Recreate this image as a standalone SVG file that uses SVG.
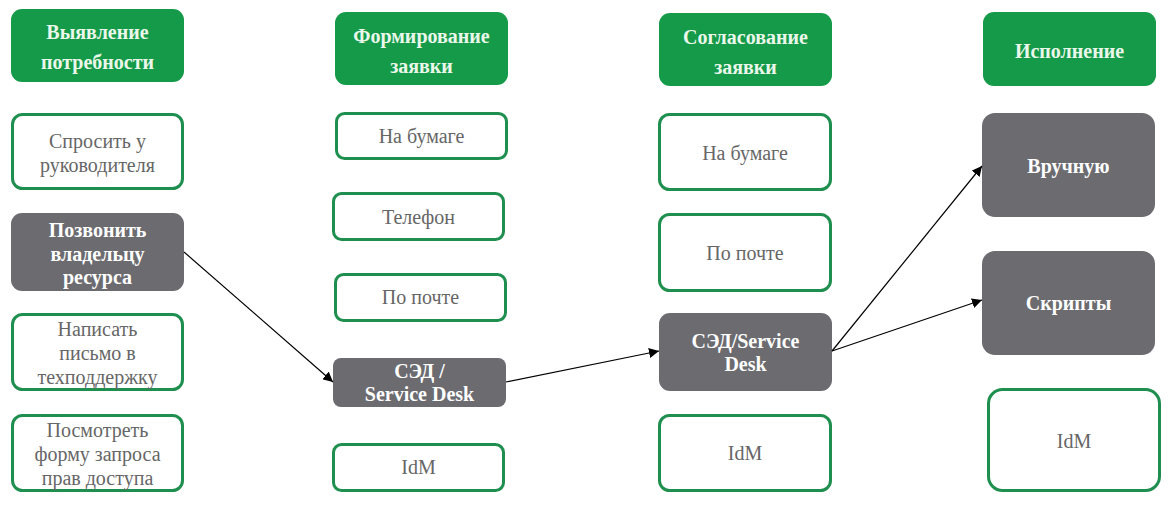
<svg xmlns="http://www.w3.org/2000/svg" width="1171" height="510" viewBox="0 0 1171 510">
<style>
.hd{fill:#149a48}
.hdt{font-family:'Liberation Serif','Times New Roman',serif;font-weight:bold;font-size:20px;fill:#eaf7ea;text-anchor:middle;dominant-baseline:central}
.wb{fill:#ffffff;stroke:#1f8f4f;stroke-width:3}
.wt{font-family:'Liberation Serif','Times New Roman',serif;font-size:20px;fill:#666666;text-anchor:middle;dominant-baseline:central}
.gb{fill:#6b6b70}
.gt{font-family:'Liberation Serif','Times New Roman',serif;font-weight:bold;font-size:20px;fill:#ffffff;text-anchor:middle;dominant-baseline:central}
.cn{stroke:#000;stroke-width:1.2;fill:none;marker-end:url(#ah)}
</style>
<defs>
<marker id="ah" viewBox="0 0 10 10" refX="10" refY="5" markerWidth="10" markerHeight="10" markerUnits="userSpaceOnUse" orient="auto">
<path d="M0,0 L10,5 L0,10 z" fill="#000"/>
</marker>
</defs>
<rect width="1171" height="510" fill="#ffffff"/>

<g id="h1"><rect class="hd" x="11" y="9" width="173" height="73" rx="11"/><text class="hdt" x="97.5" y="32">Выявление</text><text class="hdt" x="97.5" y="62">потребности</text></g>
<g id="n1a"><rect class="wb" x="12.5" y="114.5" width="170" height="74" rx="10"/><text class="wt" x="97.5" y="141">Спросить у</text><text class="wt" x="97.5" y="165">руководителя</text></g>
<g id="n1b"><rect class="gb" x="11" y="213" width="173" height="78" rx="11"/><text class="gt" x="97.5" y="230">Позвонить</text><text class="gt" x="97.5" y="254">владельцу</text><text class="gt" x="97.5" y="277">ресурса</text></g>
<g id="n1c"><rect class="wb" x="12.5" y="314.5" width="170" height="75" rx="10"/><text class="wt" x="97.5" y="329">Написать</text><text class="wt" x="97.5" y="353">письмо в</text><text class="wt" x="97.5" y="377">техподдержку</text></g>
<g id="n1d"><rect class="wb" x="12.5" y="415.5" width="170" height="75" rx="10"/><text class="wt" x="97.5" y="430">Посмотреть</text><text class="wt" x="97.5" y="454">форму запроса</text><text class="wt" x="97.5" y="478">прав доступа</text></g>

<g id="h2"><rect class="hd" x="335" y="12" width="173" height="73" rx="11"/><text class="hdt" x="421.5" y="36">Формирование</text><text class="hdt" x="421.5" y="66">заявки</text></g>
<g id="n2a"><rect class="wb" x="336.5" y="113.5" width="170" height="45" rx="8"/><text class="wt" x="421.5" y="136">На бумаге</text></g>
<g id="n2b"><rect class="wb" x="333.5" y="193.5" width="170" height="46" rx="8"/><text class="wt" x="418.5" y="217">Телефон</text></g>
<g id="n2c"><rect class="wb" x="335.5" y="274.5" width="170" height="46" rx="8"/><text class="wt" x="420.5" y="297">По почте</text></g>
<g id="n2d"><rect class="gb" x="333" y="358" width="173" height="49" rx="8"/><text class="gt" x="419.5" y="371">СЭД /</text><text class="gt" x="419.5" y="394">Service Desk</text></g>
<g id="n2e"><rect class="wb" x="333.5" y="444.5" width="170" height="46" rx="8"/><text class="wt" x="418.5" y="467">IdM</text></g>

<g id="h3"><rect class="hd" x="659" y="13" width="173" height="73" rx="11"/><text class="hdt" x="745.5" y="37">Согласование</text><text class="hdt" x="745.5" y="67">заявки</text></g>
<g id="n3a"><rect class="wb" x="659.5" y="114.5" width="171" height="75" rx="10"/><text class="wt" x="745" y="153">На бумаге</text></g>
<g id="n3b"><rect class="wb" x="659.5" y="214.5" width="171" height="76" rx="10"/><text class="wt" x="745" y="253">По почте</text></g>
<g id="n3c"><rect class="gb" x="659" y="313" width="173" height="78" rx="11"/><text class="gt" x="745.5" y="341">СЭД/Service</text><text class="gt" x="745.5" y="364">Desk</text></g>
<g id="n3d"><rect class="wb" x="659.5" y="415.5" width="171" height="75" rx="10"/><text class="wt" x="745" y="453">IdM</text></g>

<g id="h4"><rect class="hd" x="983" y="12" width="173" height="74" rx="11"/><text class="hdt" x="1069.5" y="51">Исполнение</text></g>
<g id="n4a"><rect class="gb" x="982" y="113" width="173" height="104" rx="13"/><text class="gt" x="1068.5" y="166">Вручную</text></g>
<g id="n4b"><rect class="gb" x="982" y="251" width="173" height="104" rx="13"/><text class="gt" x="1068.5" y="303">Скрипты</text></g>
<g id="n4c"><rect class="wb" x="988.5" y="389.5" width="171" height="101" rx="14"/><text class="wt" x="1074" y="441">IdM</text></g>

<g id="connectors">
<line class="cn" x1="184" y1="252" x2="333" y2="382"/>
<line class="cn" x1="506" y1="382" x2="659" y2="351"/>
<line class="cn" x1="832" y1="351" x2="982" y2="166"/>
<line class="cn" x1="832" y1="351" x2="982" y2="300"/>
</g>
</svg>
